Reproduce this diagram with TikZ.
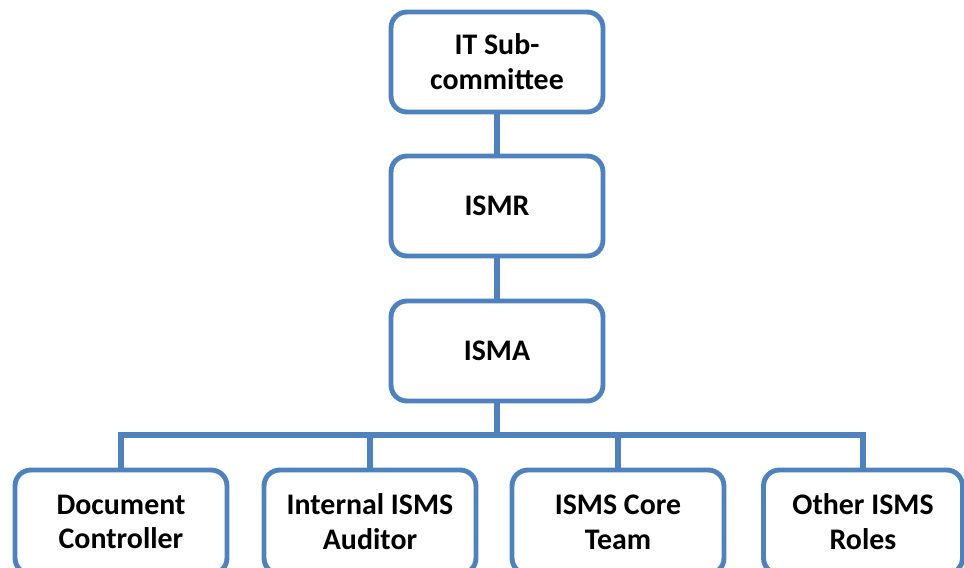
\documentclass[tikz,border=0pt]{standalone}
\usepackage{fontspec}
\setmainfont{Carlito}
\definecolor{boxblue}{RGB}{79,129,189}
\begin{document}
\begin{tikzpicture}[x=0.02cm,y=-0.02cm,
  unit/.style={draw=boxblue, line width=2.8pt, rounded corners=9pt, fill=white,
    minimum width=4.24cm, minimum height=2cm, inner sep=0pt, align=center,
    font=\fontsize{17}{19.8}\selectfont\bfseries},
  member/.style={unit, minimum height=2.08cm},
  link/.style={draw=boxblue, line width=3pt}]
\useasboundingbox (0,0) rectangle (964,568);
\clip (0,0) rectangle (964,568);
% chain of command
\node[unit] (itsc) at (497,62) {IT Sub-\\committee};
\node[unit] (ismr) at (497,206) {ISMR};
\node[unit] (isma) at (497,351) {ISMA};
% team members
\node[member] (doc) at (121,522) {Document\\Controller};
\node[member] (aud) at (370,522) {Internal ISMS\\Auditor};
\node[member] (core) at (618,522) {ISMS Core\\Team};
\node[member, minimum width=3.98cm] (other) at (863,522) {Other ISMS\\Roles};
\coordinate (bus) at (497,435);
\draw[link] (itsc.south)--(ismr.north);
\draw[link] (ismr.south)--(isma.north);
\draw[link] (isma.south)--(bus);
\draw[link] (doc.north)|-(bus)-|(other.north);
\draw[link] (aud.north)--(aud.north|-bus);
\draw[link] (core.north)--(core.north|-bus);
\end{tikzpicture}
\end{document}
